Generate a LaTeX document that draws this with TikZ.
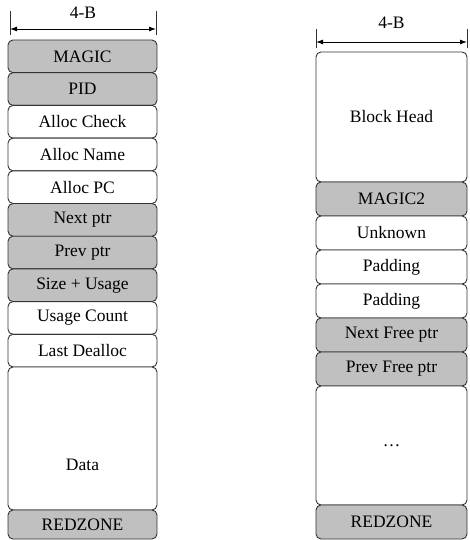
\documentclass[tikz,border=0pt]{standalone}
\usepackage{fontspec}
\setmainfont{Liberation Serif}
\usetikzlibrary{arrows.meta}

\definecolor{edge}{HTML}{333333}
\definecolor{shade}{HTML}{C0C0C0}

% \memblk{style}{name}{x left}{x right}{y top}{y bottom}{label}
\newcommand\memblk[7]{%
  \pgfmathsetmacro\bw{#4-#3}%
  \pgfmathsetmacro\bh{#6-#5}%
  \node[#1, minimum width=\bw pt, minimum height=\bh pt] (#2)
    at ({(#3+#4)/2},{(#5+#6)/2}) {#7};%
}

\begin{document}
\begin{tikzpicture}[x=1pt, y=-1pt,
  txt/.style={font=\fontsize{17.5}{19}\selectfont},
  field/.style={draw=edge, line width=0.9pt, rounded corners=5pt,
    inner sep=0pt, outer sep=0pt, fill=white, txt},
  hdr/.style={field, fill=shade},
  tick/.style={draw=edge, line width=0.9pt},
  dim/.style={line width=0.9pt, {Latex[length=7pt,width=5pt]}-{Latex[length=7pt,width=5pt]}},
  dimlabel/.style={txt, inner sep=0pt}]
\useasboundingbox (0,0) rectangle (469,540);

% ---- allocated block layout ----
\coordinate (la) at (10,11);  \coordinate (lb) at (10,35);
\coordinate (ra) at (156,11); \coordinate (rb) at (156,35);
\draw[tick] (la) -- (lb);
\draw[tick] (ra) -- (rb);
\coordinate (lA) at (10,29); \coordinate (lB) at (156,29);
\draw[dim] (lA) -- (lB);
\node[dimlabel] (lw) at (83,13) {4-B};

\memblk{hdr}{magic}{8}{157}{40}{72.7}{MAGIC}
\memblk{hdr}{pid}{8}{157}{72.7}{105.4}{PID}
\memblk{field}{achk}{8}{157}{105.4}{138.1}{Alloc Check}
\memblk{field}{aname}{8}{157}{138.1}{170.8}{Alloc Name}
\memblk{field}{apc}{8}{157}{170.8}{203.5}{Alloc PC}
\memblk{hdr}{next}{8}{157}{203.5}{236.2}{Next ptr}
\memblk{hdr}{prev}{8}{157}{236.2}{268.9}{Prev ptr}
\memblk{hdr}{size}{8}{157}{268.9}{301.6}{Size + Usage}
\memblk{field}{ucnt}{8}{157}{301.6}{334.3}{Usage Count}
\memblk{field}{ldea}{8}{157}{334.3}{367}{Last Dealloc}
\memblk{field}{data}{8}{157}{367}{510}{}
\node[txt, inner sep=0pt] (datatxt) at (82.5,465) {Data};
\memblk{hdr}{lred}{8}{157}{510}{539}{REDZONE}

% ---- free block layout ----
\coordinate (rla) at (316,29);  \coordinate (rlb) at (316,48);
\coordinate (rra) at (467,29);  \coordinate (rrb) at (467,48);
\draw[tick] (rla) -- (rlb);
\draw[tick] (rra) -- (rrb);
\coordinate (rA) at (316,42); \coordinate (rB) at (467,42);
\draw[dim] (rA) -- (rB);
\node[dimlabel] (rw) at (391.5,23) {4-B};

\memblk{field}{bhead}{316}{467}{52}{182}{Block Head}
\memblk{hdr}{magic2}{316}{467}{182}{216}{MAGIC2}
\memblk{field}{unk}{316}{467}{216}{250}{Unknown}
\memblk{field}{pad1}{316}{467}{250}{284}{Padding}
\memblk{field}{pad2}{316}{467}{284}{318}{Padding}
\memblk{hdr}{nfree}{316}{467}{318}{352}{Next Free ptr}
\memblk{hdr}{pfree}{316}{467}{352}{386}{Prev Free ptr}
\memblk{field}{rest}{316}{467}{386}{505}{\dots}
\memblk{hdr}{rred}{316}{467}{505}{539}{REDZONE}
\end{tikzpicture}
\end{document}
